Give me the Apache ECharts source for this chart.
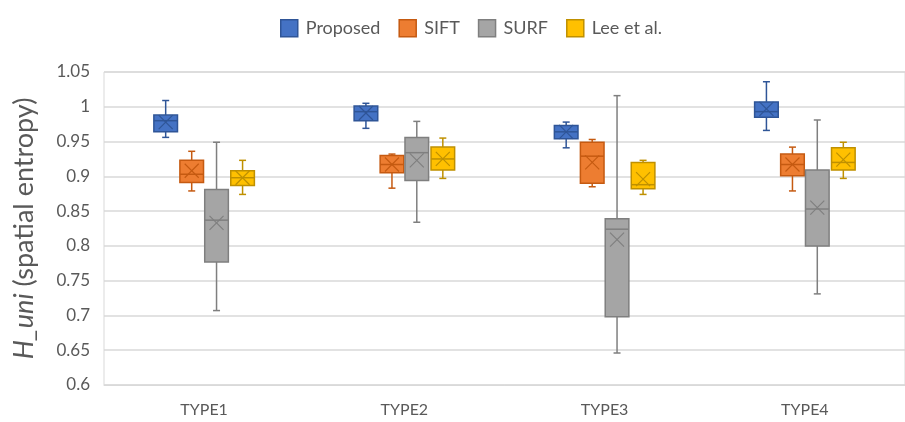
<!DOCTYPE html>
<html>
<head>
<meta charset="utf-8">
<script src="https://cdn.jsdelivr.net/npm/echarts@6/dist/echarts.min.js"></script>
<style>
  html, body { margin: 0; padding: 0; background: #fff; }
  #chart { width: 905px; height: 422px; }
</style>
</head>
<body>
<div id="chart"></div>
<script>
// categories and series values
// each box: [whisker low, q1, median, q3, whisker high]
var categories = ["TYPE1", "TYPE2", "TYPE3", "TYPE4"];
var yTicks = { min: 0.6, max: 1.05, step: 0.05 };

var proposedBox = [
  [0.956, 0.964, 0.980, 0.988, 1.009],
  [0.969, 0.980, 0.993, 1.001, 1.005],
  [0.941, 0.954, 0.964, 0.973, 0.978],
  [0.966, 0.985, 0.993, 1.007, 1.036]
];
var proposedMean = [0.978, 0.991, 0.964, 0.997];

var siftBox = [
  [0.879, 0.891, 0.903, 0.923, 0.936],
  [0.883, 0.905, 0.917, 0.930, 0.932],
  [0.885, 0.890, 0.929, 0.949, 0.953],
  [0.879, 0.901, 0.917, 0.932, 0.942]
];
var siftMean = [0.908, 0.917, 0.920, 0.917];

var surfBox = [
  [0.707, 0.777, 0.837, 0.881, 0.949],
  [0.834, 0.894, 0.934, 0.956, 0.979],
  [0.646, 0.698, 0.824, 0.839, 1.016],
  [0.731, 0.800, 0.853, 0.909, 0.981]
];
var surfMean = [0.833, 0.923, 0.809, 0.855];

var leeBox = [
  [0.874, 0.887, 0.898, 0.908, 0.923],
  [0.897, 0.909, 0.925, 0.942, 0.955],
  [0.874, 0.882, 0.888, 0.920, 0.923],
  [0.897, 0.909, 0.920, 0.941, 0.949]
];
var leeMean = [0.898, 0.925, 0.896, 0.924];

var font = "Lato, 'Open Sans', sans-serif";
var textColor = "#595959";

// box drawn with the axes' own coord(): offset and width are fractions of the band
function boxRender(offset, widthFrac, fill, stroke) {
  return function (params, api) {
    var idx = api.value(0);
    var band = api.size([1, 0])[0];
    var cx = api.coord([idx, 0])[0] + offset * band;
    var w = widthFrac * band;
    var y = function (i) { return api.coord([idx, api.value(i)])[1]; };
    var lo = y(1), q1 = y(2), med = y(3), q3 = y(4), hi = y(5), mean = y(6);
    var cap = 3.5;
    var ln = { stroke: stroke, lineWidth: 1.5 };
    var thin = { stroke: stroke, lineWidth: 1.2 };
    return {
      type: "group",
      children: [
        { type: "line", shape: { x1: cx, y1: hi, x2: cx, y2: q3 }, style: ln },
        { type: "line", shape: { x1: cx, y1: q1, x2: cx, y2: lo }, style: ln },
        { type: "line", shape: { x1: cx - cap, y1: hi, x2: cx + cap, y2: hi }, style: ln },
        { type: "line", shape: { x1: cx - cap, y1: lo, x2: cx + cap, y2: lo }, style: ln },
        { type: "rect", shape: { x: cx - w / 2, y: q3, width: w, height: q1 - q3 },
          style: { fill: fill, stroke: stroke, lineWidth: 1.5 } },
        { type: "line", shape: { x1: cx - w / 2, y1: med, x2: cx + w / 2, y2: med }, style: ln },
        { type: "line", shape: { x1: cx - 7, y1: mean - 7, x2: cx + 7, y2: mean + 7 }, style: thin },
        { type: "line", shape: { x1: cx - 7, y1: mean + 7, x2: cx + 7, y2: mean - 7 }, style: thin }
      ]
    };
  };
}

function toData(box, mean) {
  return box.map(function (b, i) {
    return [i, b[0], b[1], b[2], b[3], b[4], mean[i]];
  });
}

var seriesDefs = [
  { name: "Proposed", box: proposedBox, mean: proposedMean, offset: -0.192, fill: "#4472C4", stroke: "#2F5597" },
  { name: "SIFT", box: siftBox, mean: siftMean, offset: -0.062, fill: "#ED7D31", stroke: "#C55A11" },
  { name: "SURF", box: surfBox, mean: surfMean, offset: 0.062, fill: "#A5A5A5", stroke: "#7F7F7F" },
  { name: "Lee et al.", box: leeBox, mean: leeMean, offset: 0.192, fill: "#FFC000", stroke: "#BF9000" }
];

var chart = echarts.init(document.getElementById("chart"));
chart.setOption({
  animation: false,
  legend: {
    left: 275,
    top: 14,
    icon: "rect",
    itemWidth: 17,
    itemHeight: 17,
    itemGap: 18,
    textStyle: { fontFamily: font, fontSize: 18, color: textColor, padding: [0, 0, 0, 3] },
    data: seriesDefs.map(function (s) {
      return { name: s.name, itemStyle: { color: s.fill, borderColor: s.stroke, borderWidth: 1.5 } };
    })
  },
  grid: {
    left: 104,
    right: -10,
    top: 72,
    bottom: 37,
    show: true,
    borderColor: "#d9d9d9",
    borderWidth: 1
  },
  xAxis: {
    type: "category",
    data: categories,
    axisLine: { show: true, lineStyle: { color: "#d9d9d9" } },
    axisTick: { show: false },
    axisLabel: { fontFamily: font, fontSize: 16, color: textColor, margin: 17 }
  },
  yAxis: {
    type: "value",
    min: yTicks.min,
    max: yTicks.max,
    interval: yTicks.step,
    name: "{i|H_uni} (spatial entropy)",
    nameLocation: "middle",
    nameRotate: 90,
    nameGap: 66,
    nameTextStyle: {
      fontFamily: font, fontSize: 27, color: textColor,
      rich: { i: { fontFamily: font, fontSize: 27, fontStyle: "italic", color: textColor } }
    },
    axisLine: { show: false },
    axisTick: { show: false },
    axisLabel: { fontFamily: font, fontSize: 17, color: textColor, margin: 14 },
    splitLine: { lineStyle: { color: "#d9d9d9", width: 1.5 } }
  },
  series: seriesDefs.map(function (s) {
    return {
      name: s.name,
      type: "custom",
      renderItem: boxRender(s.offset, 0.118, s.fill, s.stroke),
      itemStyle: { color: s.fill, borderColor: s.stroke },
      encode: { x: 0, y: [1, 2, 3, 4, 5] },
      data: toData(s.box, s.mean)
    };
  })
});
</script>
</body>
</html>
